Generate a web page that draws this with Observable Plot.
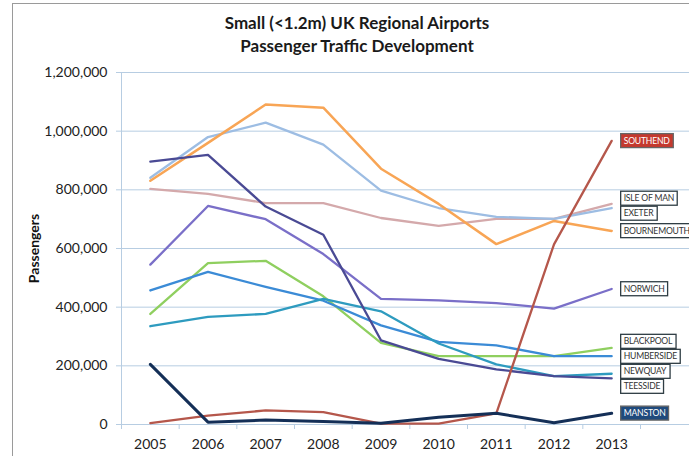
<!DOCTYPE html>
<html>
<head>
<meta charset="utf-8">
<script src="https://cdn.jsdelivr.net/npm/d3@7"></script>
<script src="https://cdn.jsdelivr.net/npm/@observablehq/plot@0.6"></script>
<style>
  html, body { margin: 0; padding: 0; background: #fff; }
  #wrap { position: relative; width: 689px; height: 456px; overflow: hidden; background: #fff; font-family: Lato, "Open Sans", sans-serif; }
  #title { height: 60px; box-sizing: border-box; padding-top: 11px; padding-left: 25px; text-align: center; font-weight: 700; font-size: 17px; line-height: 23px; color: #1a1a1a; }
  #bTop { position: absolute; left: 12px; top: 3px; right: 0; height: 0; border-top: 1px solid #9a9a9a; }
  #bLeft { position: absolute; left: 12px; top: 3px; bottom: 0; width: 0; border-left: 1px solid #9a9a9a; }
  g[aria-label="y-axis label"] text { font-weight: 700; font-size: 14px; fill: #111; }
</style>
</head>
<body>
<div id="wrap">
  <div id="bTop"></div><div id="bLeft"></div>
  <div id="title">Small (&lt;1.2m) UK Regional Airports<br>Passenger Traffic Development</div>
  <div id="chart"></div>
</div>
<script>
const years = [2005, 2006, 2007, 2008, 2009, 2010, 2011, 2012, 2013];
const yTicks = [0, 200000, 400000, 600000, 800000, 1000000, 1200000];

const southend    = [5000, 30000, 48000, 42000, 3000, 3000, 38000, 614000, 967000];
const isleOfMan   = [803000, 786000, 755000, 755000, 704000, 677000, 701000, 701000, 752000];
const exeter      = [841000, 980000, 1029000, 954000, 797000, 738000, 708000, 701000, 738000];
const bournemouth = [831000, 960000, 1091000, 1080000, 872000, 752000, 615000, 694000, 660000];
const norwich     = [545000, 745000, 700000, 581000, 428000, 423000, 414000, 395000, 462000];
const blackpool   = [377000, 550000, 558000, 437000, 278000, 233000, 233000, 233000, 261000];
const humberside  = [457000, 520000, 469000, 422000, 338000, 282000, 270000, 233000, 233000];
const newquay     = [335000, 367000, 377000, 428000, 386000, 276000, 205000, 165000, 173000];
const teesside    = [896000, 919000, 743000, 647000, 287000, 224000, 188000, 165000, 157000];
const manston     = [205000, 8000, 15000, 10000, 4000, 25000, 38000, 6000, 38000];

const airports = ["ISLE OF MAN", "EXETER", "BOURNEMOUTH", "NORWICH", "BLACKPOOL", "HUMBERSIDE", "NEWQUAY", "TEESSIDE", "SOUTHEND", "MANSTON"];
const seriesValues = [isleOfMan, exeter, bournemouth, norwich, blackpool, humberside, newquay, teesside, southend, manston];
const lineColors = ["#d4a9ab", "#9dbde3", "#f8a555", "#7a6fc8", "#8fcf5f", "#3b8bd6", "#2e9bbf", "#4a4a94", "#b5574b", "#142f57"];
const lineWidths = [2.3, 2.3, 2.5, 2.3, 2.3, 2.3, 2.3, 2.3, 2.3, 3];
const boxFills = ["#fff", "#fff", "#fff", "#fff", "#fff", "#fff", "#fff", "#fff", "#c4392e", "#1f4a7c"];
const textFills = ["#333", "#333", "#333", "#333", "#333", "#333", "#333", "#333", "#fff", "#fff"];

const axisColor = "#b7cde2";
const W = 689, H = 396, mT = 12, mB = 32, mL = 121, mR = 49;
const boundaries = years.map(y => y - 0.5).concat([years[years.length - 1] + 0.5]);

// dodge label positions (value units) so boxes don't overlap
const gapPx = 15;
const gap = gapPx * (yTicks[yTicks.length - 1] - yTicks[0]) / (H - mT - mB);
function dodge(vals) {
  const items = vals.map((v, i) => ({i, v})).sort((a, b) => b.v - a.v);
  let clusters = items.map(it => ({items: [it], c: it.v}));
  let changed = true;
  while (changed) {
    changed = false;
    for (let k = 0; k < clusters.length - 1; k++) {
      const a = clusters[k], b = clusters[k + 1];
      const aBot = a.c - (a.items.length - 1) * gap / 2;
      const bTop = b.c + (b.items.length - 1) * gap / 2;
      if (aBot - bTop < gap) {
        const its = a.items.concat(b.items);
        clusters.splice(k, 2, {items: its, c: d3.mean(its, d => d.v)});
        changed = true;
        break;
      }
    }
  }
  const out = new Array(vals.length);
  for (const cl of clusters) {
    const n = cl.items.length;
    cl.items.forEach((it, j) => { out[it.i] = cl.c + ((n - 1) / 2 - j) * gap; });
  }
  return out;
}
const lastVals = seriesValues.map(s => s[s.length - 1]);
const labelVals = dodge(lastVals);

const marks = [
  Plot.ruleY(yTicks, {stroke: axisColor, strokeWidth: 1, insetRight: -mR}),
  Plot.ruleX([boundaries[0]], {stroke: axisColor, strokeWidth: 1}),
  Plot.axisY(yTicks, {tickSize: 5, tickPadding: 9, stroke: axisColor, fill: "#222", fontSize: 14,
    tickFormat: d3.format(","), label: "Passengers", labelAnchor: "center", labelArrow: "none", labelOffset: 92}),
  Plot.axisX(boundaries, {tickSize: 5, tickFormat: () => "", stroke: axisColor, label: null}),
  Plot.axisX(years, {tickSize: 0, tickPadding: 15, fill: "#222", fontSize: 14, tickFormat: d => String(d), label: null})
];
seriesValues.forEach((vals, k) => {
  const rows = years.map((yr, i) => ({year: yr, value: vals[i]}));
  marks.push(Plot.line(rows, {x: "year", y: "value", stroke: lineColors[k], strokeWidth: lineWidths[k], strokeLinejoin: "round", strokeLinecap: "round"}));
});
airports.forEach((name, k) => {
  marks.push(Plot.text([{name, v: labelVals[k]}], {
    x: () => years[years.length - 1], y: "v", text: "name", dx: 12, textAnchor: "start",
    fill: textFills[k], fontSize: 8.6, fontFamily: "Lato, sans-serif", ariaLabel: () => "airport-label-" + k
  }));
});

const chart = Plot.plot({
  width: W, height: H,
  marginTop: mT, marginBottom: mB, marginLeft: mL, marginRight: mR,
  x: {domain: [boundaries[0], boundaries[boundaries.length - 1]]},
  y: {domain: [yTicks[0], yTicks[yTicks.length - 1]]},
  style: {fontFamily: "Lato, sans-serif", fontSize: "14px", color: "#222", background: "transparent", overflow: "visible"},
  marks
});
document.getElementById("chart").append(chart);

// boxes behind labels
airports.forEach((name, k) => {
  const nodes = chart.querySelectorAll(`[aria-label="airport-label-${k}"]`);
  nodes.forEach(node => {
    const texts = node.tagName.toLowerCase() === "text" ? [node] : Array.from(node.querySelectorAll("text"));
    texts.forEach(t => {
      t.setAttribute("letter-spacing", "-0.2");
      const bb = t.getBBox();
      const r = document.createElementNS("http://www.w3.org/2000/svg", "rect");
      r.setAttribute("x", bb.x - 3);
      r.setAttribute("y", bb.y - 2);
      r.setAttribute("width", bb.width + 6);
      r.setAttribute("height", bb.height + 4);
      r.setAttribute("fill", boxFills[k]);
      r.setAttribute("stroke", k >= 8 ? "#666" : "#2f3d44");
      r.setAttribute("stroke-width", 1.3);
      if (t.getAttribute("transform")) r.setAttribute("transform", t.getAttribute("transform"));
      t.parentNode.insertBefore(r, t);
    });
  });
});
</script>
</body>
</html>
